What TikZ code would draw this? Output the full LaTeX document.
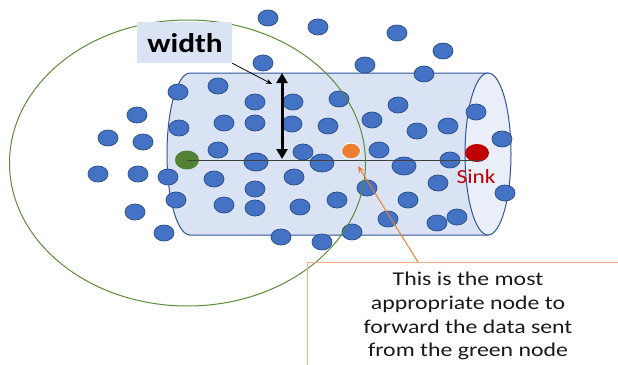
\documentclass[tikz,border=0pt]{standalone}
\usepackage{fontspec}
\setmainfont{Carlito}
\newfontfamily\widefont[FakeStretch=1.16]{Carlito}
\newfontfamily\calloutfont[FakeStretch=1.22]{Carlito}
\usetikzlibrary{shapes.geometric,arrows.meta}
\definecolor{bluefill}{HTML}{4472C4}
\definecolor{blueedge}{HTML}{2F528F}
\definecolor{cylfill}{HTML}{DAE3F3}
\definecolor{capfill}{HTML}{E9EEF8}
\definecolor{cyledge}{HTML}{2F5597}
\definecolor{grn}{HTML}{548235}
\definecolor{ringgreen}{HTML}{5B8C3A}
\definecolor{sinkred}{HTML}{C00000}
\definecolor{orng}{HTML}{ED7D31}
\definecolor{lightorng}{HTML}{F4B183}
\tikzset{
  sensor/.style={ellipse, fill=bluefill, draw=blueedge, line width=0.8pt, minimum width=20pt, minimum height=16pt, inner sep=0pt},
  bigsensor/.style={sensor, minimum width=24pt, minimum height=18pt},
}
\begin{document}
\begin{tikzpicture}[x=1pt,y=-1pt]
\useasboundingbox (0,0) rectangle (618,364);
\begin{scope}
\clip (0,0) rectangle (618,364);
% cylinder body
\draw[cyledge, line width=1pt, fill=cylfill] (190,73) -- (488,73) -- (488,235) -- (190,235) arc (90:270:23 and 81) -- cycle;
\draw[cyledge, line width=1pt, fill=capfill] (488,154) ellipse (23 and 81);
% sensors
\foreach \x/\y [count=\i] in {268/18,318/27,397/33,443/51,263/63,365/65,424/74,
  178/92,218/86,255/102,293/102,137/115,179/128,224/123,255/123,292/124,
  108/138,143/142,218/150,98/174,138/174,168/177,214/179,255/189,176/200,
  224/205,255/208,135/212,164/233,281/237,339/99,398/105,328/126,372/120,
  417/131,448/126,476/112,502/139,303/152,379/150,450/160,294/177,367/188,
  438/183,505/193,300/207,337/200,408/200,388/219,437/223,457/217,322/242,352/232}
  \node[sensor] (b\i) at (\x,\y) {};
\node[bigsensor] (c1) at (256,162) {};
\node[bigsensor] (c2) at (322,163) {};
\node[bigsensor] (c3) at (404,166) {};
% special nodes
\node[ellipse, fill=grn, minimum width=24pt, minimum height=19pt, inner sep=0pt] (src) at (187,160) {};
\node[ellipse, fill=sinkred, minimum width=24pt, minimum height=18pt, inner sep=0pt] (sink) at (477,153) {};
\node[ellipse, fill=orng, draw=white, line width=1pt, minimum width=19pt, minimum height=16pt, inner sep=0pt] (fwd) at (351,151) {};
\node[text=sinkred, inner sep=0pt, font=\widefont\fontsize{20}{22}\selectfont] (sinklabel) at (476,177) {Sink};
% axis line
\coordinate (lineend) at (483,160);
\draw[black!75, line width=0.8pt] (src.center) -- (lineend);
% communication range
\draw[ringgreen, line width=1pt] (187.5,163) ellipse (178 and 143);
% width label
\node[fill=cylfill, minimum width=95pt, minimum height=41pt, inner sep=0pt] (wlabel) at (184.5,42.5) {};
\node[inner sep=0pt, anchor=base, font=\widefont\fontsize{27}{30}\selectfont\bfseries] (wtext) at (185,52) {width};
\coordinate (wpoint) at (272,84);
\draw[-{Stealth[length=6pt,width=5pt]}, line width=0.8pt] (wlabel.south east) -- (wpoint);
\coordinate (wtop) at (282,73);
\coordinate (wbot) at (282,159);
\draw[line width=3pt, {Triangle[length=10pt,width=11pt]}-{Triangle[length=10pt,width=11pt]}] (wtop) -- (wbot);
% callout
\draw[lightorng, line width=1pt] (307,380) -- (307,262) -- (640,262);
\node[align=center, inner sep=0pt, text=black!90, font=\calloutfont\fontsize{19.5}{23.7}\selectfont, anchor=north] (callout) at (468,272) {This is the most\\appropriate node to\\forward the data sent\\from the green node};
\coordinate (cbox) at (418,262);
\coordinate (ctip) at (358,166);
\draw[orng, line width=1pt, -{Stealth[length=7pt,width=6pt]}] (cbox) -- (ctip);
\end{scope}
\end{tikzpicture}
\end{document}
